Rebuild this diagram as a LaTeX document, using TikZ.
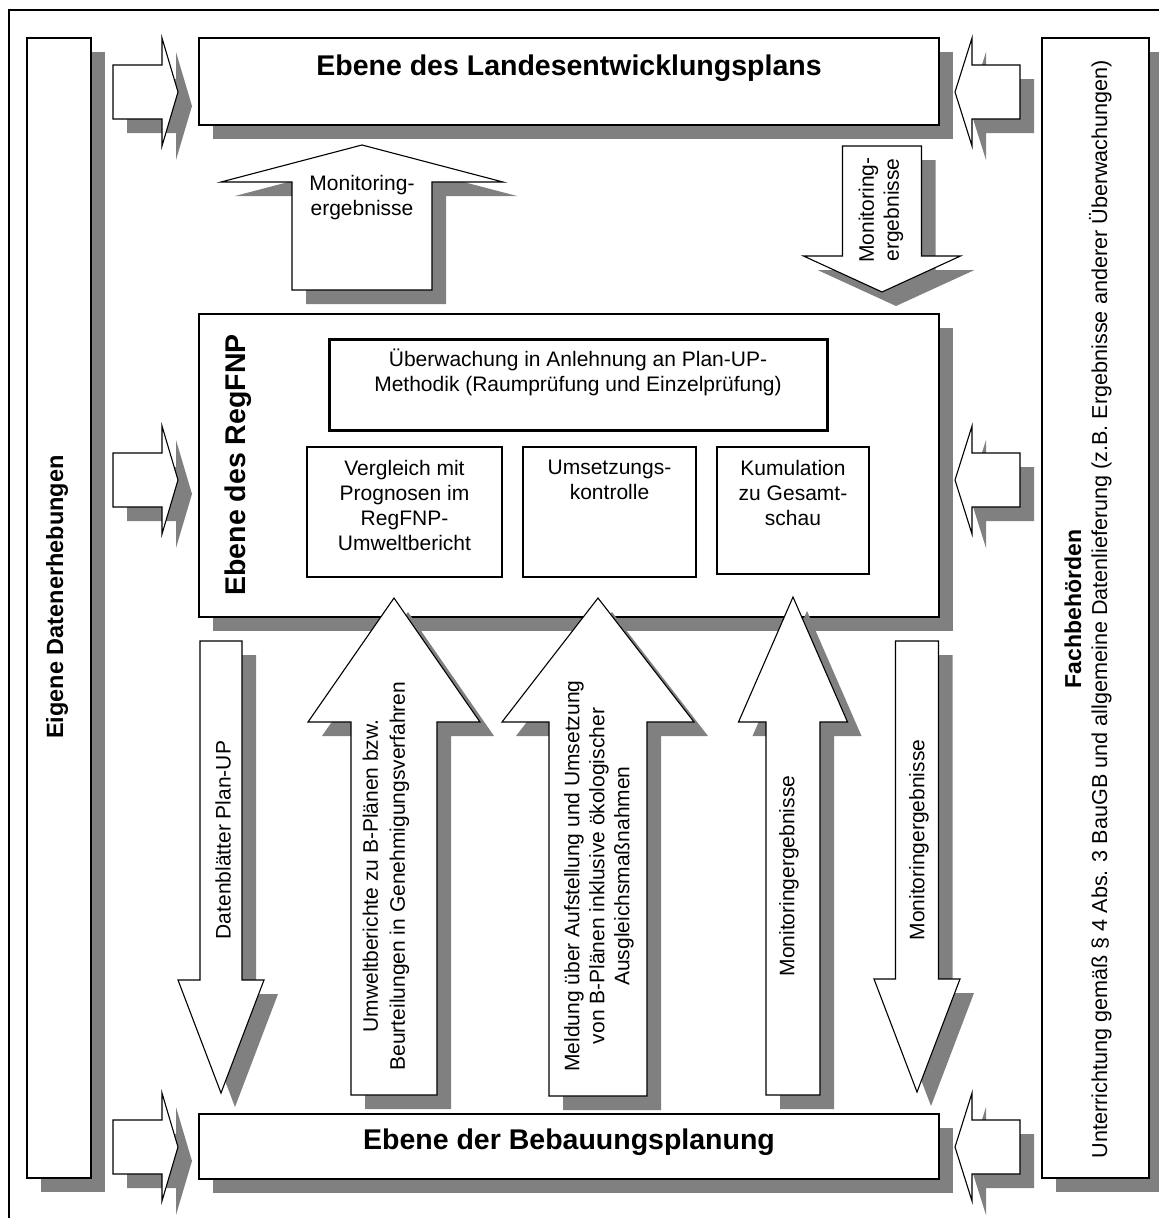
\documentclass[tikz,border=0pt]{standalone}
\usepackage{fontspec}
\setmainfont{Liberation Sans}
\usetikzlibrary{shadows,positioning}
\newcommand{\grau}{black!50}
% senkrechter Blockpfeil: x, Spitze, Kopfansatz, Ende, halbe Schaftbreite, halbe Kopfbreite
\newcommand{\vpfeil}[6]{\draw[pfeil] (#1,#2) -- (#1+#6,#3) -- (#1+#5,#3) -- (#1+#5,#4) -- (#1-#5,#4) -- (#1-#5,#3) -- (#1-#6,#3) -- cycle;}
% waagrechter Blockpfeil: Spitze, y, Kopfansatz, Ende, halbe Schaftbreite, halbe Kopfbreite
\newcommand{\hpfeil}[6]{\draw[pfeil] (#1,#2) -- (#3,#2-#6) -- (#3,#2-#5) -- (#4,#2-#5) -- (#4,#2+#5) -- (#3,#2+#5) -- (#3,#2+#6) -- cycle;}
\tikzset{
    kasten/.style = {draw, line width=1.3pt, fill=white, outer sep=0pt, anchor=north west,
        drop shadow={shadow xshift=14pt, shadow yshift=-14pt, fill=\grau, opacity=1}},
    innen/.style = {draw, line width=1.3pt, outer sep=0pt, anchor=north west},
    pfeil/.style = {kasten, line width=1.1pt, line join=miter},
    txt/.style = {font=\fontsize{21}{25}\selectfont, align=center, inner sep=0pt},
    titel/.style = {font=\fontsize{28.5}{32}\selectfont\bfseries, inner sep=0pt},
    seite/.style = {font=\fontsize{23.5}{26}\selectfont\bfseries, inner sep=0pt}
}
\begin{document}
\begin{tikzpicture}[x=1pt, y=-1pt]
    \useasboundingbox (0,0) rectangle (1159,1218);
    %\draw[help lines] (0,0) grid[step=100] (1159,1218);
    \draw[line width=2pt] (9,10) rectangle (1190,1250);

    % Seitenleisten
    \node[kasten, minimum width=64, minimum height=1140] (eigen) at (27,38) {};
    \node[seite, rotate=90] (eigen text) at (57,597) {Eigene Datenerhebungen};
    \node[kasten, minimum width=107, minimum height=1140] (fach) at (1042,38) {};
    \node[txt, rotate=90, font=\fontsize{21.6}{26}\selectfont] (fach text) at (1088,609)
        {{\bfseries\fontsize{23}{26}\selectfont Fachbehörden}\\
        Unterrichtung gemäß § 4 Abs. 3 BauGB und allgemeine Datenlieferung (z.B. Ergebnisse anderer Überwachungen)};

    % Ebenen
    \node[kasten, minimum width=740, minimum height=87] (lep) at (199,38) {};
    \node[titel] (lep text) at (569,68) {Ebene des Landesentwicklungsplans};

    \foreach \y in {92,480,1147} {
        \hpfeil{178}{\y}{162}{113}{27}{54}
        \hpfeil{955}{\y}{972}{1020}{27}{54}
    }

    \vpfeil{362}{145}{182}{290}{70}{141}
    \node[txt] (mon links) at (362,198) {Monitoring-\\ergebnisse};
    \vpfeil{882}{292}{256}{146}{39.5}{78.5}
    \node[txt, rotate=90] (mon rechts) at (881,210) {Monitoring-\\ergebnisse};

    \node[kasten, minimum width=740, minimum height=303] (regfnp) at (199,314) {};
    \node[titel, rotate=90] (regfnp text) at (238,465) {Ebene des RegFNP};
    \node[innen, line width=3pt, minimum width=498, minimum height=91] (methodik) at (329,339) {};
    \node[txt, below=10pt of methodik.north] (methodik text)
        {Überwachung in Anlehnung an Plan-UP-\\Methodik (Raumprüfung und Einzelprüfung)};
    \node[innen, minimum width=195, minimum height=130] (vergleich) at (307,447) {};
    \node[innen, minimum width=173, minimum height=130, right=21pt of vergleich.north east, anchor=north west] (umsetzung) {};
    \node[innen, minimum width=152, minimum height=127, right=21pt of umsetzung.north east, anchor=north west] (kumulation) {};
    \node[txt, below=13pt of vergleich.north] (vergleich text) {Vergleich mit\\Prognosen im\\RegFNP-\\Umweltbericht};
    \node[txt, below=13pt of umsetzung.north] (umsetzung text) {Umsetzungs-\\kontrolle};
    \node[txt, below=13pt of kumulation.north] (kumulation text) {Kumulation\\zu Gesamt-\\schau};

    % Pfeile zwischen RegFNP und Bebauungsplanung
    \vpfeil{221}{1093}{980}{641}{21}{43}
    \node[txt, rotate=90] (datenblatt) at (223,840) {Datenblätter Plan-UP};
    \vpfeil{394}{598}{722}{1095}{43}{86}
    \node[txt, rotate=90, font=\fontsize{21}{27}\selectfont] (umwelt) at (386,876)
        {Umweltberichte zu B-Plänen bzw.\\Beurteilungen in Genehmigungsverfahren};
    \vpfeil{598}{598}{722}{1096}{49}{96}
    \node[txt, rotate=90] (meldung) at (599,876)
        {Meldung über Aufstellung und Umsetzung\\von B-Plänen inklusive ökologischer\\Ausgleichsmaßnahmen};
    \vpfeil{793}{597}{722}{1095}{27}{54.5}
    \node[txt, rotate=90] (mon mitte) at (789,876) {Monitoringergebnisse};
    \vpfeil{917}{1092}{979}{641}{21.5}{43}
    \node[txt, rotate=90] (mon unten) at (919,840) {Monitoringergebnisse};

    \node[kasten, minimum width=740, minimum height=65] (bplan) at (199,1114) {};
    \node[titel] (bplan text) at (569,1142) {Ebene der Bebauungsplanung};
\end{tikzpicture}
\end{document}
